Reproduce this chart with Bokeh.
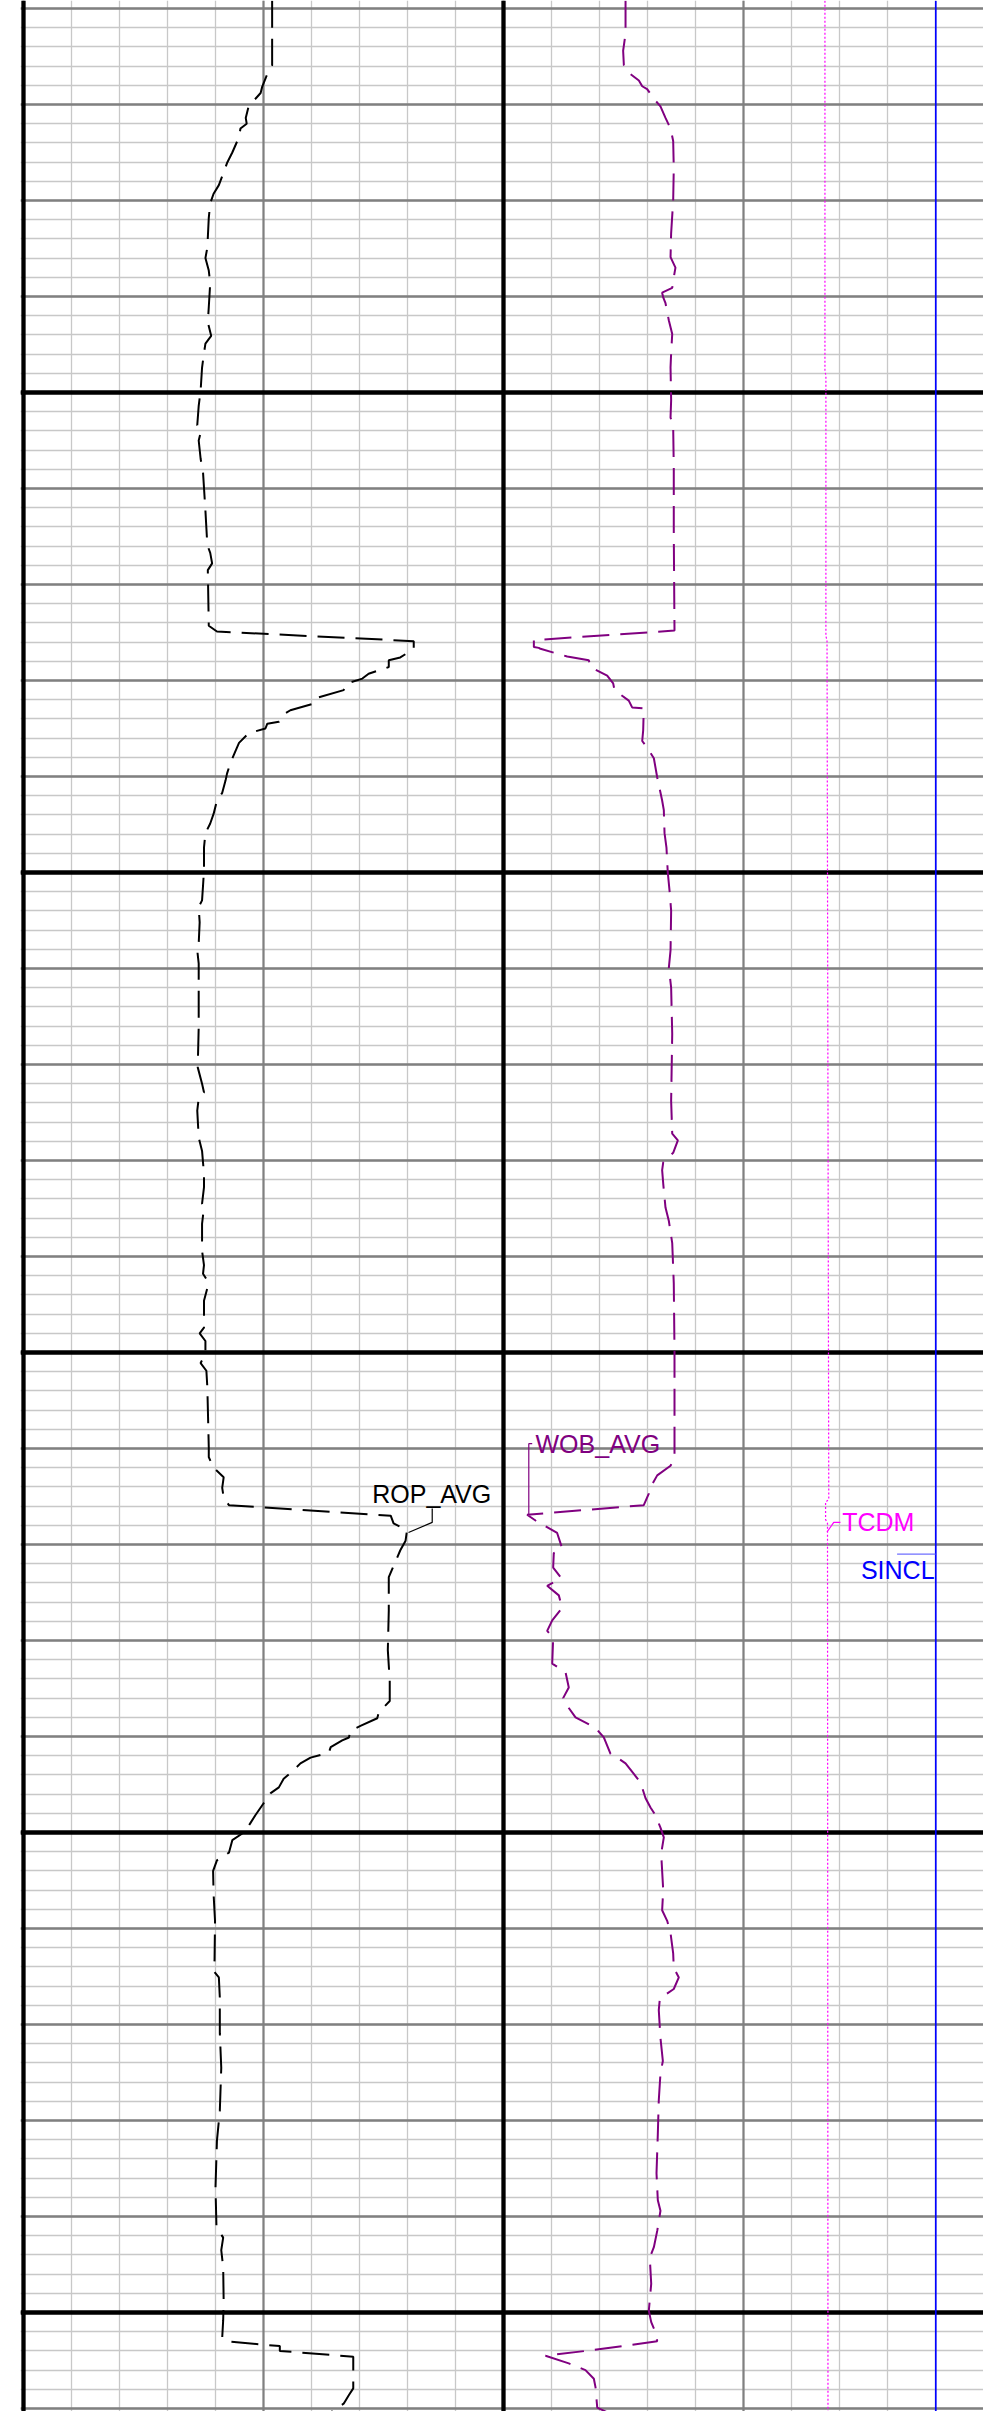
from bokeh.plotting import figure
from bokeh.models import Range1d, Grid, SingleIntervalTicker, Label
from bokeh.embed import file_html
from bokeh.resources import INLINE

# ---------------- data ----------------
rop_depth = [959.2, 965.9, 966.7, 968.2, 968.8, 970.2, 971.4, 972.0, 972.5, 973.4,
             975.0, 976.1, 977.2, 978.4, 979.3, 980.3, 981.8, 984.9, 986.0, 987.3,
             988.6, 991.1, 992.7, 994.1, 994.9, 995.9, 997.4, 999.8, 1001.4, 1003.4,
             1004.0, 1005.0, 1006.9, 1008.3, 1012.3, 1015.9, 1016.7, 1017.8, 1018.5, 1024.3,
             1024.9, 1025.9, 1026.7, 1027.6, 1027.9, 1028.6, 1029.3, 1029.8, 1030.3, 1031.0,
             1031.8, 1032.4, 1033.1, 1033.4, 1034.3, 1034.5, 1035.0, 1035.5, 1036.5, 1037.3,
             1038.6, 1039.7, 1040.4, 1041.7, 1042.5, 1043.9, 1044.9, 1045.9, 1047.4, 1049.8,
             1051.4, 1052.9, 1053.6, 1055.2, 1057.4, 1058.1, 1059.5, 1066.1, 1070.3, 1072.0,
             1072.9, 1073.5, 1074.8, 1077.6, 1079.0, 1081.4, 1082.8, 1084.5, 1084.9, 1086.6,
             1089.4, 1090.9, 1091.8, 1092.5, 1093.3, 1094.6, 1097.4, 1098.0, 1098.8, 1100.1,
             1101.1, 1101.9, 1103.6, 1109.9, 1110.9, 1112.0, 1113.0, 1114.1, 1115.1, 1115.9,
             1117.0, 1117.8, 1118.5, 1119.6, 1120.6, 1123.4, 1126.9, 1131.0, 1134.2, 1136.3,
             1137.5, 1138.1, 1138.9, 1139.4, 1140.1, 1140.4, 1141.1, 1141.7, 1142.2, 1142.8,
             1143.5, 1144.4, 1145.3, 1145.9, 1146.9, 1148.2, 1149.0, 1149.8, 1150.1, 1150.8,
             1152.1, 1152.9, 1154.0, 1156.4, 1159.2, 1163.3, 1164.4, 1165.1, 1167.2, 1170.9,
             1174.5, 1179.0, 1182.1, 1187.0, 1191.1, 1192.2, 1193.5, 1195.3, 1198.8, 1200.8,
             1202.6, 1203.0, 1203.5, 1204.0, 1204.6, 1207.9, 1208.6, 1209.5, 1210.4]
rop_avg = [51.8, 51.8, 50.9, 49.7, 49.4, 46.9, 46.3, 46.5, 45.2, 44.9,
           43.5, 42.4, 41.6, 40.7, 39.6, 38.9, 38.6, 38.3, 37.9, 38.6,
           38.9, 38.6, 38.4, 39.1, 37.9, 37.6, 37.2, 36.9, 36.5, 36.2,
           37.0, 36.5, 36.9, 37.4, 37.9, 38.3, 38.9, 39.3, 38.4, 38.6,
           40.3, 81.3, 81.3, 78.5, 76.1, 76.1, 71.9, 70.6, 67.4, 66.7,
           61.2, 60.5, 55.6, 54.6, 53.2, 50.8, 50.4, 46.9, 44.9, 44.2,
           43.1, 42.4, 42.1, 41.4, 40.3, 39.6, 38.9, 37.9, 37.6, 37.6,
           37.4, 37.2, 36.5, 36.7, 36.5, 36.2, 36.5, 36.5, 36.3, 37.2,
           37.6, 36.5, 36.2, 36.5, 37.2, 37.6, 37.6, 37.2, 37.6, 37.2,
           37.2, 37.6, 37.4, 38.3, 38.3, 37.6, 37.6, 36.7, 37.9, 37.9,
           36.9, 38.1, 38.3, 38.6, 38.6, 39.6, 41.7, 41.4, 41.7, 42.8,
           76.5, 77.1, 79.9, 79.6, 78.5, 76.1, 76.1, 75.9, 76.3, 76.3,
           74.0, 73.7, 70.2, 68.1, 67.8, 66.4, 64.0, 63.6, 59.8, 57.7,
           56.3, 54.2, 53.2, 51.5, 50.1, 48.3, 47.3, 46.3, 45.6, 43.5,
           42.8, 40.3, 39.5, 39.6, 39.9, 39.8, 39.6, 40.7, 40.9, 40.9,
           41.2, 40.9, 40.3, 40.0, 40.2, 41.6, 41.2, 41.6, 41.7, 41.6,
           41.4, 42.4, 53.4, 53.4, 68.7, 68.7, 67.8, 66.7, 64.0]

wob_depth = [959.2, 962.6, 964.4, 965.9, 966.7, 967.5, 968.1, 968.4, 969.4, 970.2,
             971.4, 972.5, 973.8, 976.6, 980.0, 983.4, 985.9, 987.0, 988.0, 989.1,
             989.6, 990.1, 990.7, 992.5, 993.9, 995.9, 997.4, 1000.8, 1002.6, 1003.6,
             1007.8, 1014.7, 1024.8, 1025.8, 1026.5, 1026.6, 1026.7, 1027.5, 1027.9, 1028.6,
             1029.5, 1030.3, 1031.0, 1032.1, 1032.8, 1032.9, 1035.2, 1036.3, 1037.0, 1038.1,
             1040.1, 1042.5, 1043.5, 1045.9, 1047.4, 1050.0, 1052.2, 1054.0, 1058.1, 1059.9,
             1062.0, 1066.8, 1073.8, 1077.2, 1077.9, 1079.2, 1080.2, 1081.0, 1082.4, 1084.9,
             1086.3, 1088.6, 1092.8, 1099.8, 1110.9, 1111.8, 1112.8, 1113.9, 1114.7, 1115.9,
             1116.9, 1117.5, 1118.8, 1120.4, 1120.9, 1122.4, 1123.5, 1124.3, 1125.3, 1126.6,
             1127.9, 1129.0, 1129.7, 1132.4, 1133.3, 1134.9, 1136.0, 1136.8, 1138.0, 1139.1,
             1140.1, 1141.8, 1142.2, 1142.8, 1143.9, 1144.8, 1146.4, 1147.4, 1148.2, 1149.5,
             1150.5, 1152.2, 1156.0, 1158.1, 1159.2, 1160.5, 1162.6, 1164.1, 1165.1, 1166.3,
             1167.3, 1168.5, 1171.4, 1173.8, 1175.1, 1177.9, 1181.4, 1185.5, 1188.3, 1189.4,
             1191.5, 1193.2, 1194.3, 1197.0, 1199.8, 1201.0, 1202.1, 1203.0, 1203.9, 1204.5,
             1205.3, 1206.0, 1206.9, 1207.8, 1209.9, 1210.4]
wob_avg = [10.17, 10.17, 9.97, 10.03, 10.44, 11.28, 11.56, 11.97, 12.53, 13.08,
           13.5, 13.92, 14.14, 14.19, 14.14, 13.97, 13.92, 14.33, 14.19, 14.06,
           13.22, 13.31, 13.5, 13.78, 14.06, 13.97, 13.92, 13.97, 13.92, 14.14,
           14.19, 14.19, 14.25, 2.53, 2.53, 2.94, 3.08, 5.31, 7.11, 7.25,
           8.64, 9.14, 9.25, 10.44, 10.72, 11.69, 11.64, 11.56, 11.97, 12.53,
           12.81, 13.22, 13.36, 13.42, 13.58, 13.69, 13.86, 13.97, 13.92, 13.78,
           13.97, 14.06, 13.97, 14.06, 14.53, 14.14, 13.31, 13.22, 13.31, 13.5,
           13.78, 14.06, 14.19, 14.25, 14.25, 13.92, 12.81, 12.31, 12.11, 11.69,
           1.97, 2.67, 4.47, 4.89, 4.19, 4.14, 4.81, 3.64, 4.61, 4.89,
           4.06, 3.64, 4.14, 4.06, 5.17, 5.44, 4.97, 5.31, 6.0, 7.67,
           8.36, 8.92, 9.47, 10.17, 10.86, 11.42, 11.83, 12.25, 12.67, 13.08,
           13.36, 13.14, 13.31, 13.22, 13.64, 13.92, 14.14, 14.19, 14.61, 14.19,
           13.03, 12.94, 13.08, 13.28, 13.08, 12.94, 12.86, 12.75, 12.86, 13.08,
           12.81, 12.53, 12.19, 12.31, 12.11, 12.31, 12.67, 12.81, 7.53, 3.5,
           5.44, 6.83, 7.53, 7.67, 7.81, 8.64]

tcdm_depth = [959.2, 997.8, 998.2, 1025.4, 1025.8, 1115.3, 1115.6, 1117.4, 1117.8, 1210.4]
tcdm = [200.9, 200.9, 201.5, 201.5, 202.2, 203.3, 201.3, 201.3, 202.5, 202.8]

sincl_depth = [959.2, 1210.4]
sincl = [90.06, 90.06]

# curve scales (left value, right value) and the track they occupy
ROP_SCALE, ROP_TRACK = (0, 100), 0
WOB_SCALE, WOB_TRACK = (0, 40), 1
TCDM_SCALE, TCDM_TRACK = (0, 300), 1
SINCL_SCALE, SINCL_TRACK = (0, 100), 1

# ---------------- layout ----------------
W, H = 983, 2411
COL_PX = 48.0          # px per grid column
DEPTH_PX = 9.6         # px per depth unit
LEFT_PAD = 20          # frame starts 3px left of track border (x=23)
X0 = -3.0 / COL_PX
X1 = X0 + (W - LEFT_PAD) / COL_PX
D_TOP = 960.0 - 8.0 / DEPTH_PX
D_BOT = D_TOP + H / DEPTH_PX


def track_range(scale, track):
    lo, hi = scale
    per = (hi - lo) / 10.0
    c0 = 10.0 * track
    return Range1d(lo + (X0 - c0) * per, lo + (X1 - c0) * per)


p = figure(width=W, height=H, output_backend="svg", toolbar_location=None,
           x_range=Range1d(X0, X1), y_range=Range1d(D_BOT, D_TOP),
           x_axis_location=None, y_axis_location=None,
           min_border_left=LEFT_PAD, min_border_right=0,
           min_border_top=0, min_border_bottom=0,
           background_fill_color="white", border_fill_color="white")
p.outline_line_color = None
p.grid.grid_line_color = None

p.extra_x_ranges = {
    "rop": track_range(ROP_SCALE, ROP_TRACK),
    "wob": track_range(WOB_SCALE, WOB_TRACK),
    "tcdm": track_range(TCDM_SCALE, TCDM_TRACK),
    "sincl": track_range(SINCL_SCALE, SINCL_TRACK),
}

# grid: light / dark / thick, vertical and horizontal
for dim, interval, color, width in [
    (1, 2, "#c8c8c8", 1.3), (0, 1, "#c8c8c8", 1.3),
    (1, 10, "#808080", 2.6), (0, 5, "#808080", 2.2),
    (1, 50, "#000000", 4.3), (0, 10, "#000000", 4.3),
]:
    p.add_layout(Grid(dimension=dim, ticker=SingleIntervalTicker(interval=interval),
                      grid_line_color=color, grid_line_width=width))

DASH = "27 11"
p.line(x=rop_avg, y=rop_depth, x_range_name="rop", line_color="black",
       line_width=2, line_dash=DASH)
p.line(x=wob_avg, y=wob_depth, x_range_name="wob", line_color="#800080",
       line_width=2, line_dash=DASH)
p.line(x=tcdm, y=tcdm_depth, x_range_name="tcdm", line_color="#ff00ff",
       line_width=1.2, line_dash="2 2")
p.line(x=sincl, y=sincl_depth, x_range_name="sincl", line_color="#0000ff",
       line_width=1.7)

# curve name labels with leaders
FONT = "Liberation Sans"
LABEL_SHIFT = 0.85
labels = [
    ("ROP_AVG", 7.265, 1115.6, "black", "left"),
    ("WOB_AVG", 10.667, 1110.4, "#800080", "left"),
    ("TCDM", 17.056, 1118.5, "#ff00ff", "left"),
    ("SINCL", 18.98, 1123.5, "#0000ff", "right"),
]
for txt, lx, ly, col, al in labels:
    p.add_layout(Label(x=lx, y=ly - LABEL_SHIFT, text=txt, text_font=FONT,
                       text_font_size="25px", text_color=col, text_align=al,
                       text_baseline="alphabetic"))

leaders = [
    ([8.515, 8.515, 8.021], [1116.25, 1117.7, 1118.75], "black", 1.2),
    ([10.598, 10.527, 10.527], [1109.5, 1109.5, 1116.9], "#800080", 1.2),
    ([17.02, 16.88, 16.74], [1117.7, 1117.7, 1118.7], "#ff00ff", 1.2),
    ([18.2, 19.0], [1121.0, 1121.0], "#6f6fff", 1.2),
]
for lxs, lys, col, lw in leaders:
    p.line(x=lxs, y=lys, line_color=col, line_width=lw)

open("out.html", "w").write(file_html(p, INLINE))
